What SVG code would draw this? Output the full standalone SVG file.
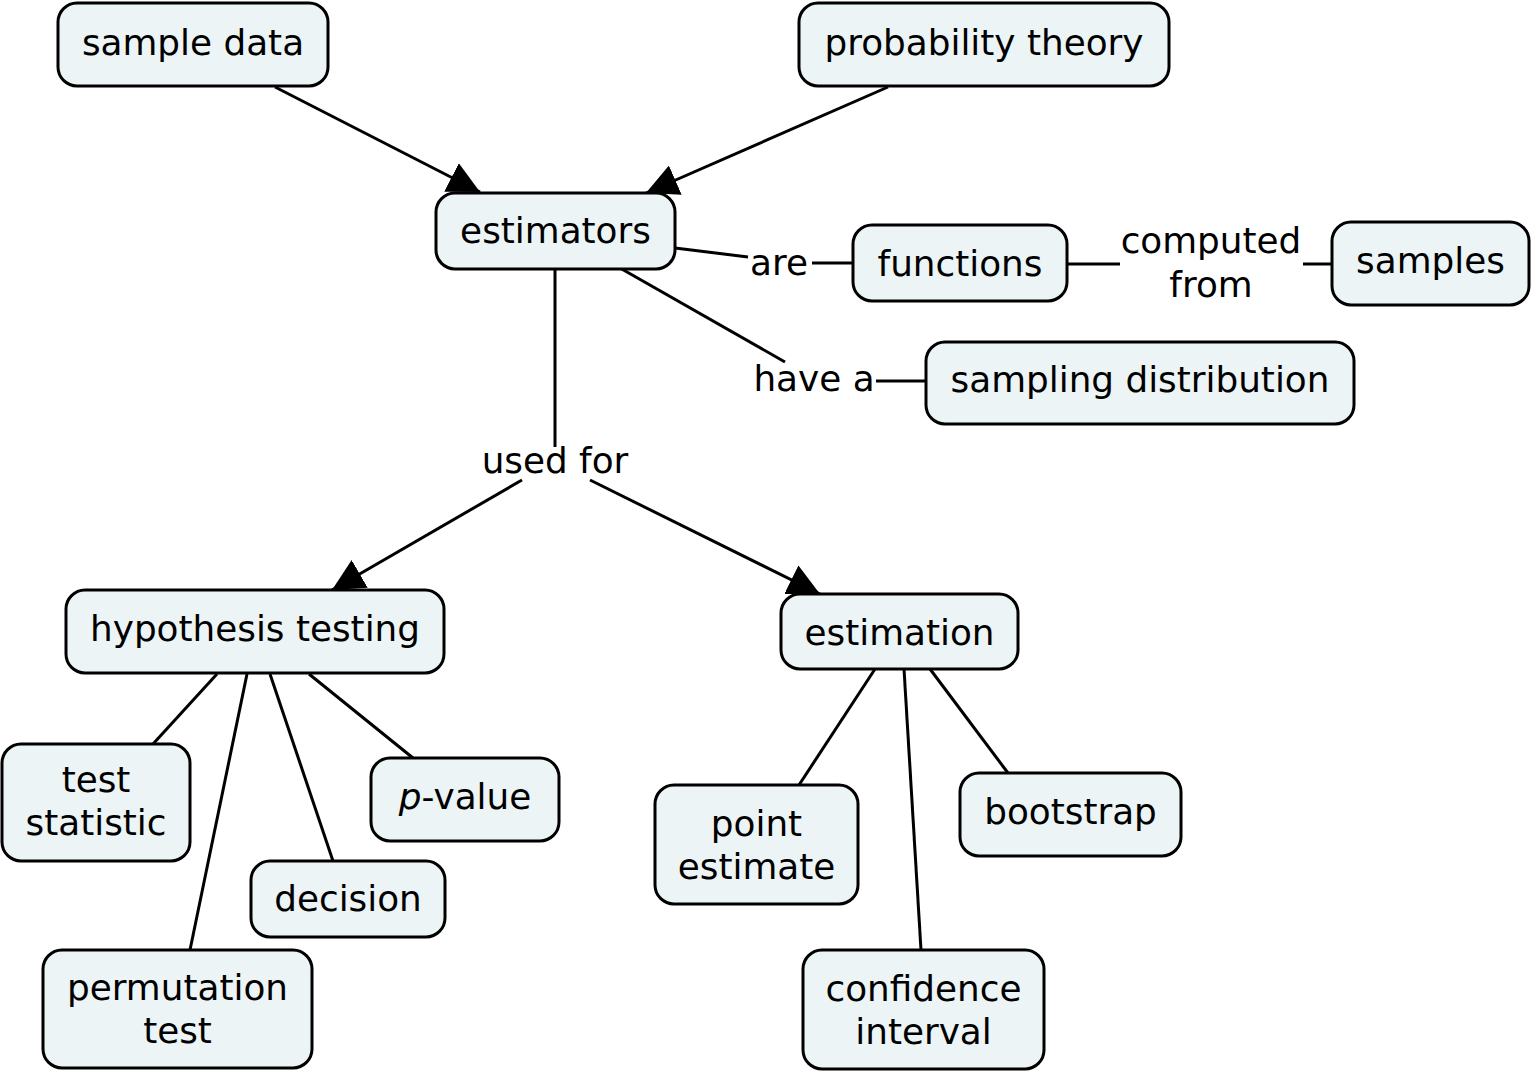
<svg xmlns="http://www.w3.org/2000/svg" width="1536" height="1076" viewBox="0 0 1536 1076">
<style>
.node rect{fill:#ecf4f6;stroke:#000;stroke-width:3}
text{font-family:"DejaVu Sans","Liberation Sans",sans-serif;font-size:35.8px;fill:#000;text-anchor:middle}
.links line{stroke:#000;stroke-width:3}
</style>
<defs>
<marker id="arr" markerUnits="userSpaceOnUse" markerWidth="32" markerHeight="32" refX="32" refY="16" orient="auto" viewBox="0 0 32 32">
<path d="M0,0 L32,16 L0,32 z" fill="#000"/>
</marker>
</defs>
<rect width="1536" height="1076" fill="#fff"/>
<g class="links">
<line x1="275" y1="87" x2="480" y2="192" marker-end="url(#arr)"/>
<line x1="888" y1="87" x2="646" y2="193" marker-end="url(#arr)"/>
<line x1="675" y1="248" x2="748" y2="257"/>
<line x1="812" y1="263" x2="853" y2="263"/>
<line x1="1067" y1="264" x2="1120" y2="264"/>
<line x1="1303" y1="264" x2="1332" y2="264"/>
<line x1="620" y1="268" x2="785" y2="362"/>
<line x1="876" y1="381" x2="926" y2="381"/>
<line x1="555" y1="269" x2="555" y2="447"/>
<line x1="522" y1="480" x2="332" y2="590" marker-end="url(#arr)"/>
<line x1="590" y1="480" x2="820" y2="594" marker-end="url(#arr)"/>
<line x1="217" y1="674" x2="153" y2="744"/>
<line x1="247" y1="674" x2="190" y2="950"/>
<line x1="270" y1="674" x2="333" y2="861"/>
<line x1="309" y1="674" x2="413" y2="758"/>
<line x1="875" y1="669" x2="799" y2="785"/>
<line x1="904" y1="669" x2="921" y2="950"/>
<line x1="930" y1="669" x2="1008" y2="773"/>
<text x="779" y="275">are</text>
<text x="1211" y="253">computed</text>
<text x="1211" y="297">from</text>
<text x="814" y="391">have a</text>
<text x="555" y="473">used for</text>
</g>
<g id="n-sample-data" class="node"><rect x="58" y="3" width="270" height="83" rx="19"/><text x="193" y="55">sample data</text></g>
<g id="n-probability-theory" class="node"><rect x="799" y="3" width="370" height="83" rx="19"/><text x="984" y="55">probability theory</text></g>
<g id="n-estimators" class="node"><rect x="436" y="193" width="239" height="76" rx="19"/><text x="555.5" y="243">estimators</text></g>
<g id="n-functions" class="node"><rect x="853" y="225" width="214" height="76" rx="19"/><text x="960" y="276">functions</text></g>
<g id="n-samples" class="node"><rect x="1332" y="222" width="197" height="83" rx="19"/><text x="1430.5" y="273">samples</text></g>
<g id="n-sampling-distribution" class="node"><rect x="926" y="342" width="428" height="82" rx="19"/><text x="1140" y="392">sampling distribution</text></g>
<g id="n-hypothesis-testing" class="node"><rect x="66" y="590" width="378" height="83" rx="19"/><text x="255" y="641">hypothesis testing</text></g>
<g id="n-estimation" class="node"><rect x="781" y="594" width="237" height="75" rx="19"/><text x="899.5" y="645">estimation</text></g>
<g id="n-test-statistic" class="node"><rect x="2" y="744" width="188" height="117" rx="19"/><text x="96" y="792">test</text><text x="96" y="835">statistic</text></g>
<g id="n-p-value" class="node"><rect x="371" y="758" width="188" height="83" rx="19"/><text x="465" y="809"><tspan font-style="italic">p</tspan>-value</text></g>
<g id="n-decision" class="node"><rect x="251" y="861" width="194" height="76" rx="19"/><text x="348" y="911">decision</text></g>
<g id="n-permutation-test" class="node"><rect x="43" y="950" width="269" height="118" rx="19"/><text x="177.5" y="1000">permutation</text><text x="177.5" y="1043">test</text></g>
<g id="n-point-estimate" class="node"><rect x="655" y="785" width="203" height="119" rx="19"/><text x="756.5" y="836">point</text><text x="756.5" y="879">estimate</text></g>
<g id="n-bootstrap" class="node"><rect x="960" y="773" width="221" height="83" rx="19"/><text x="1070.5" y="824">bootstrap</text></g>
<g id="n-confidence-interval" class="node"><rect x="803" y="950" width="241" height="119" rx="19"/><text x="923.5" y="1001">confidence</text><text x="923.5" y="1044">interval</text></g>
</svg>
